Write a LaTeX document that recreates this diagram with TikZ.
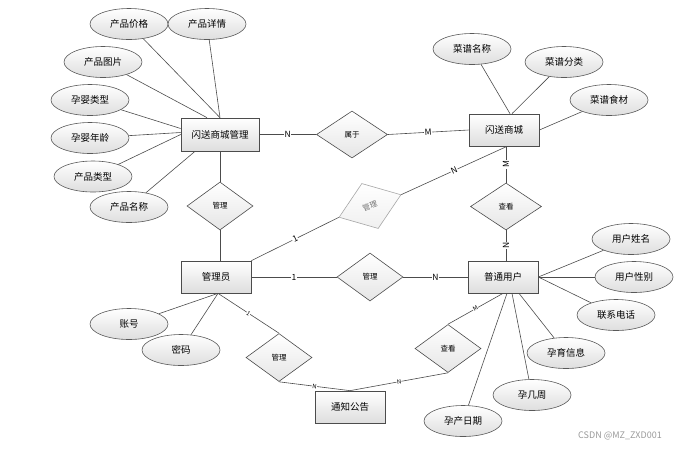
\documentclass[tikz,border=0pt]{standalone}
\usepackage{fontspec}
\setmainfont{Noto Sans CJK SC}
\usetikzlibrary{shapes.geometric,shadows}
\begin{document}
\begin{tikzpicture}[x=1pt,y=-1pt,
	entity/.style={draw=black!70,line width=0.7pt,top color=white,bottom color=black!13,minimum width=70pt,minimum height=32pt,inner sep=0pt,font=\fontsize{9.5}{11}\selectfont,drop shadow={opacity=0.25,shadow xshift=1pt,shadow yshift=-1pt}},
	attr/.style={ellipse,draw=black!65,line width=0.6pt,top color=white,bottom color=black!13,minimum width=78pt,minimum height=31pt,inner sep=0pt,font=\fontsize{9.5}{11}\selectfont},
	rel/.style={diamond,draw=black!70,line width=0.6pt,top color=white,bottom color=black!10,minimum width=66pt,minimum height=48pt,inner sep=0pt,font=\fontsize{7.5}{9}\selectfont},
	link/.style={draw=black!70,line width=0.6pt},
	card/.style={pos=0.5,sloped,fill=white,inner sep=0.6pt,font=\fontsize{8.5}{9}\selectfont},
	cardsm/.style={pos=0.5,sloped,fill=white,inner sep=0.3pt,font=\fontsize{6}{7}\selectfont}]
				\useasboundingbox (0,0) rectangle (688,451);
				\node[entity,minimum width=78pt,minimum height=33pt] (pm) at (220,134.5) {闪送商城管理};
				\node[entity] (sc) at (504,130) {闪送商城};
				\node[entity] (gly) at (216,277) {管理员};
				\node[entity] (yh) at (503,277) {普通用户};
				\node[entity] (gg) at (350,407) {通知公告};
				\node[rel,minimum width=71pt,minimum height=47pt] (sy) at (352,134.5) {属于};
				\node[rel] (gl1) at (220,206) {管理};
				\node[rel,minimum width=71pt,minimum height=47pt] (ck1) at (506,206.5) {查看};
				\node[rel,draw=black!35,text=black!55,top color=white,bottom color=black!6,rotate=20] (gl2) at (370,206) {管理};
				\node[rel] (gl3) at (370,277) {管理};
				\node[rel] (gl4) at (279,357.5) {管理};
				\node[rel] (ck2) at (448,348.5) {查看};
				\node[attr] (jg) at (129,24) {产品价格};
				\node[attr] (xq) at (207,24) {产品详情};
				\node[attr] (tp) at (103,62) {产品图片};
				\node[attr] (ylx) at (90,100) {孕婴类型};
				\node[attr] (ynl) at (90,138) {孕婴年龄};
				\node[attr] (lx) at (93,176.5) {产品类型};
				\node[attr] (mc) at (129,207) {产品名称};
				\node[attr] (cpmc) at (472,49) {菜谱名称};
				\node[attr] (cpfl) at (564,62) {菜谱分类};
				\node[attr] (cpsc) at (609,100) {菜谱食材};
				\node[attr] (xm) at (631,239) {用户姓名};
				\node[attr] (xb) at (634,277) {用户性别};
				\node[attr] (dh) at (616,315) {联系电话};
				\node[attr] (yy) at (566,353) {孕育信息};
				\node[attr] (jz) at (532,395) {孕几周};
				\node[attr] (rq) at (463,421) {孕产日期};
				\node[attr] (zh) at (129,324) {账号};
				\node[attr] (mm) at (181,350) {密码};
				\draw [link] (jg) to (pm.north);
				\draw [link] (xq) to (pm.north);
				\draw [link] (tp) to ([xshift=-13pt]pm.north);
				\draw [link] (ylx) to ([yshift=6pt]pm.west);
				\draw [link] (ynl) to ([yshift=2pt]pm.west);
				\draw [link] (lx) to (pm.west);
				\draw [link] (mc) to ([xshift=-25pt]pm.south);
				\draw [link] (cpmc) to ([xshift=6pt]sc.north);
				\draw [link] (cpfl) to ([xshift=8pt]sc.north);
				\draw [link] (cpsc) to (sc.east);
				\draw [link] (xm) to (yh.east);
				\draw [link] (xb) to (yh.east);
				\draw [link] (dh) to (yh.east);
				\draw [link] (yy) to ([xshift=16pt]yh.south);
				\draw [link] (jz) to ([xshift=9pt]yh.south);
				\draw [link] (rq) to ([xshift=4pt]yh.south);
				\draw [link] (zh) to ([xshift=2pt]gly.south);
				\draw [link] (mm) to ([xshift=2pt]gly.south);
				\draw [link] (pm.east) to node[card] {N} (sy.west);
				\draw [link] (sy.east) to node[card] {M} (sc.west);
				\draw [link] (pm.south) to (gl1.north);
				\draw [link] (gl1.south) to (gl1.south |- gly.north);
				\draw [link] (ck1.north) to node[card] {M} (ck1.north |- sc.south);
				\draw [link] (ck1.south |- yh.north) to node[card] {N} (ck1.south);
				\draw [link] (gl2.east) to node[card] {N} ([xshift=3pt]sc.south);
				\draw [link] (gly.north east) to node[card] {1} (gl2.west);
				\draw [link] (gly.east) to node[card] {1} (gl3.west);
				\draw [link] (gl3.east) to node[card] {N} (yh.west);
				\draw [link] ([xshift=2pt]gly.south) to node[cardsm] {1} (gl4.north);
				\draw [link] (gl4.south) to node[cardsm] {N} (gg.north);
				\draw [link] (gg.north) to node[cardsm] {N} (ck2.south);
				\draw [link] (ck2.north) to node[cardsm] {M} (yh.south);
				\node[text=black!40,font=\fontsize{9}{10}\selectfont] (wm) at (620,436) {CSDN @MZ\_ZXD001};
			\end{tikzpicture}
\end{document}
